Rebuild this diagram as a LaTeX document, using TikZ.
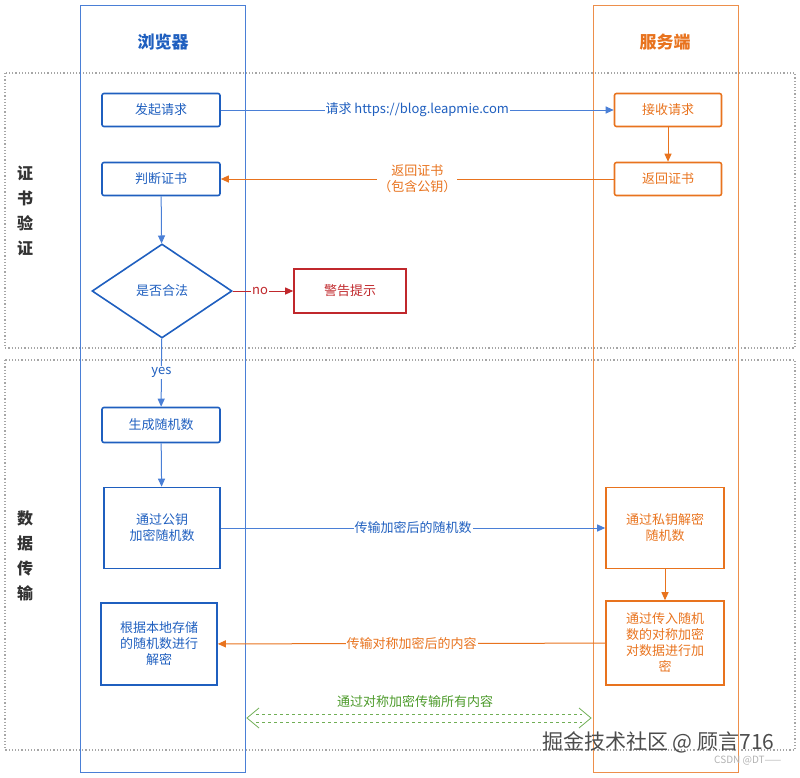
\documentclass[tikz,border=0pt]{standalone}
\usepackage{fontspec}
\setmainfont{Noto Sans CJK SC}
\usetikzlibrary{arrows.meta,shapes.geometric}
\definecolor{bl}{HTML}{1F5FBF}
\definecolor{lb}{HTML}{4A7FD6}
\definecolor{og}{HTML}{E8731E}
\definecolor{rd}{HTML}{C0282C}
\definecolor{gr}{HTML}{4C9A2A}
\begin{document}
\begin{tikzpicture}[x=1pt,y=-1pt,font=\fontsize{13}{16}\selectfont,
 bbox/.style={draw=bl,line width=1.6pt,rounded corners=2pt,text=bl,align=center,inner sep=0pt},
 obox/.style={draw=og,line width=1.6pt,rounded corners=2pt,text=og,align=center,inner sep=0pt},
 barr/.style={draw=lb,line width=1pt,-{Triangle[length=8pt,width=7pt]},color=lb},
 oarr/.style={draw=og,line width=1pt,-{Triangle[length=8pt,width=7pt]},color=og},
 lbl/.style={fill=white,inner sep=1pt,align=center},
 sec/.style={draw=gray!70,line width=1.2pt,dotted}]
\useasboundingbox (0,0) rectangle (800,777);
\draw[sec] (5,73) rectangle (795,348);
\draw[sec] (5,360) rectangle (795,750);
\draw[lb,line width=0.8pt] (80,5) rectangle (245,772);
\draw[og!80,line width=0.8pt] (593,5) rectangle (738,772);
\node[text=bl,font=\fontsize{17}{20}\selectfont\bfseries] (tb) at (163,42) {浏览器};
\node[text=og,font=\fontsize{17}{20}\selectfont\bfseries] (ts) at (665,42) {服务端};
\node[text=black!80,font=\fontsize{16}{25}\selectfont\bfseries,align=center] (s1) at (25,211) {证\\书\\验\\证};
\node[text=black!80,font=\fontsize{16}{25}\selectfont\bfseries,align=center] (s2) at (25,556) {数\\据\\传\\输};
\node[bbox,minimum width=118pt,minimum height=33pt] (req) at (161,110) {发起请求};
\node[bbox,minimum width=118pt,minimum height=33pt] (chk) at (161,179) {判断证书};
\node[draw=bl,line width=1.6pt,diamond,aspect=1.5,minimum width=140pt,minimum height=94pt,inner sep=0pt,text=bl] (ok) at (162,291) {是否合法};
\node[draw=rd,line width=1.6pt,text=rd,minimum width=112pt,minimum height=44pt] (warn) at (350,291) {警告提示};
\node[bbox,minimum width=118pt,minimum height=35pt] (gen) at (161,425) {生成随机数};
\node[bbox,rounded corners=0pt,minimum width=116pt,minimum height=81pt] (enc) at (162,528) {通过公钥\\加密随机数};
\node[bbox,rounded corners=0pt,minimum width=116pt,minimum height=82pt] (dec) at (159,644) {根据本地存储\\的随机数进行\\解密};
\node[obox,minimum width=107pt,minimum height=33pt] (rcv) at (668,110) {接收请求};
\node[obox,minimum width=107pt,minimum height=33pt] (ret) at (668,179) {返回证书};
\node[obox,rounded corners=0pt,minimum width=118pt,minimum height=81pt] (pdec) at (665,528) {通过私钥解密\\随机数};
\node[obox,rounded corners=0pt,minimum width=118pt,minimum height=84pt] (senc) at (665,643) {通过传入随机\\数的对称加密\\对数据进行加\\密};
\draw[barr] (req) -- node[lbl,text=bl]{请求 https://blog.leapmie.com} (rcv);
\draw[oarr] (rcv) -- (ret);
\draw[oarr] (ret) -- node[lbl,text=og]{返回证书\\（包含公钥）} (chk);
\draw[barr] (chk) -- (ok);
\draw[draw=rd,line width=1pt,-{Triangle[length=8pt,width=7pt]},color=rd] (ok) -- node[lbl,text=rd,pos=0.45]{no} (warn);
\draw[barr] (ok) -- node[lbl,text=bl,pos=0.5]{yes} (gen);
\draw[barr] (gen) -- (enc);
\draw[barr] (enc) -- node[lbl,text=bl]{传输加密后的随机数} (pdec);
\draw[oarr] (pdec) -- (senc);
\draw[oarr] (senc) -- node[lbl,text=og]{传输对称加密后的内容} (dec);
\coordinate (gl) at (247,718);
\coordinate (gr) at (591,718);
\node[text=gr] (gt) at (415,701) {通过对称加密传输所有内容};
\draw[gr!80,dashed,line width=0.8pt] (256,714) -- (582,714) (256,722) -- (582,722);
\draw[gr!80,line width=0.8pt] (259,708) -- (gl) -- (259,728) (579,708) -- (gr) -- (579,728);
\node[text=gray!60!black,font=\fontsize{21}{24}\selectfont,anchor=east] (wm) at (778,742) {掘金技术社区 @ 顾言716};
\node[text=gray!60,font=\fontsize{10}{12}\selectfont,anchor=east] (wm2) at (785,761) {CSDN @DT——};
\end{tikzpicture}
\end{document}
